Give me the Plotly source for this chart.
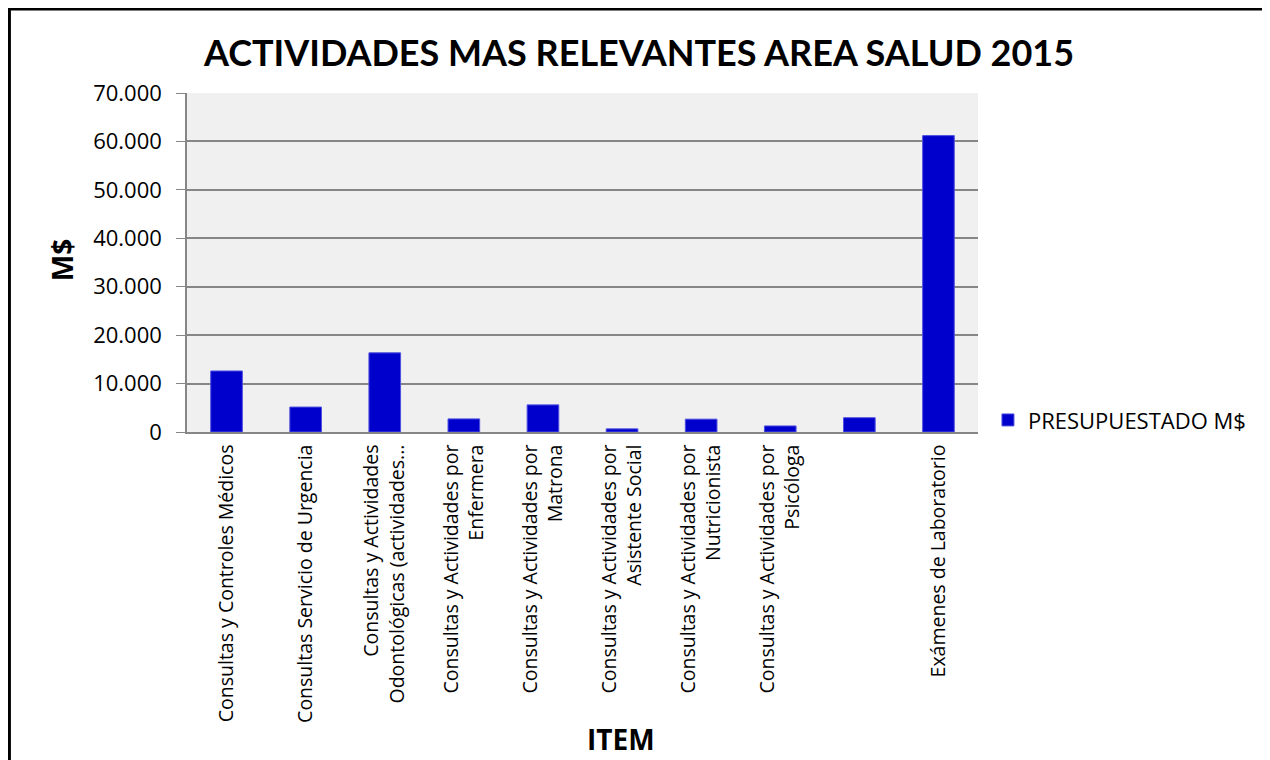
import plotly.graph_objects as go

categories = [
    "Consultas y Controles Médicos",
    "Consultas Servicio de Urgencia",
    "Consultas y Actividades<br>Odontológicas (actividades...",
    "Consultas y Actividades por<br>Enfermera",
    "Consultas y Actividades por<br>Matrona",
    "Consultas y Actividades por<br>Asistente Social",
    "Consultas y Actividades por<br>Nutricionista",
    "Consultas y Actividades por<br>Psicóloga",
    " ",
    "Exámenes de Laboratorio",
]
values = [12600, 5150, 16350, 2700, 5600, 650, 2650, 1250, 2950, 61200]
series_name = "PRESUPUESTADO M$"
y_ticks = [0, 10000, 20000, 30000, 40000, 50000, 60000, 70000]

font_family = "Open Sans, Liberation Sans, sans-serif"

fig = go.Figure()
fig.add_trace(go.Bar(
    x=list(range(len(categories))),
    y=values,
    name=series_name,
    marker=dict(color="#0000CC", line=dict(color="#5050E0", width=1)),
    width=0.4,
    showlegend=True,
))

fig.update_layout(
    width=1262, height=752,
    margin=dict(l=179, r=292, t=85, b=328),
    paper_bgcolor="white",
    plot_bgcolor="#F0F0F0",
    separators=",.",
    font=dict(family=font_family, size=17, color="black"),
    title=dict(text="<b>ACTIVIDADES MAS RELEVANTES AREA SALUD 2015</b>",
               x=0.5, xanchor="center", y=0.94, yanchor="middle",
               font=dict(family="Lato, DejaVu Sans, sans-serif", size=36, color="black")),
    showlegend=True,
    legend=dict(x=1.0126, y=0.035, xanchor="left", yanchor="middle",
                bgcolor="rgba(0,0,0,0)", font=dict(size=22)),
    bargap=0.5,
)

fig.update_yaxes(
    range=[0, 70000], tickvals=y_ticks, tickformat=",d",
    showgrid=True, gridcolor="#868686", gridwidth=1.5,
    showline=True, linecolor="#868686", linewidth=1.5,
    ticks="outside", ticklen=9, tickcolor="#868686",
    tickfont=dict(size=22), ticklabelstandoff=10,
    zeroline=False,
)
fig.update_xaxes(
    tickvals=list(range(len(categories))), ticktext=categories,
    range=[-0.5, len(categories) - 0.5],
    tickangle=-90,
    showline=True, linecolor="#868686", linewidth=1.5,
    ticks="", showgrid=False,
    tickfont=dict(size=19.5), ticklabelstandoff=3,
)

fig.add_annotation(text="<b>M$</b>", xref="paper", yref="paper",
                   x=-0.158, y=0.507, textangle=-90, showarrow=False,
                   xanchor="center", yanchor="middle", font=dict(size=28))
fig.add_annotation(text="<b>ITEM</b>", xref="paper", yref="paper",
                   x=0.549, y=-0.906, showarrow=False,
                   xanchor="center", yanchor="middle", font=dict(size=28))

fig.add_shape(type="rect", xref="paper", yref="paper",
              x0=-0.2245, x1=1.5, y0=-1.5, y1=1.2478,
              line=dict(color="black", width=3), fillcolor="rgba(0,0,0,0)")

fig.write_html("out.html")
